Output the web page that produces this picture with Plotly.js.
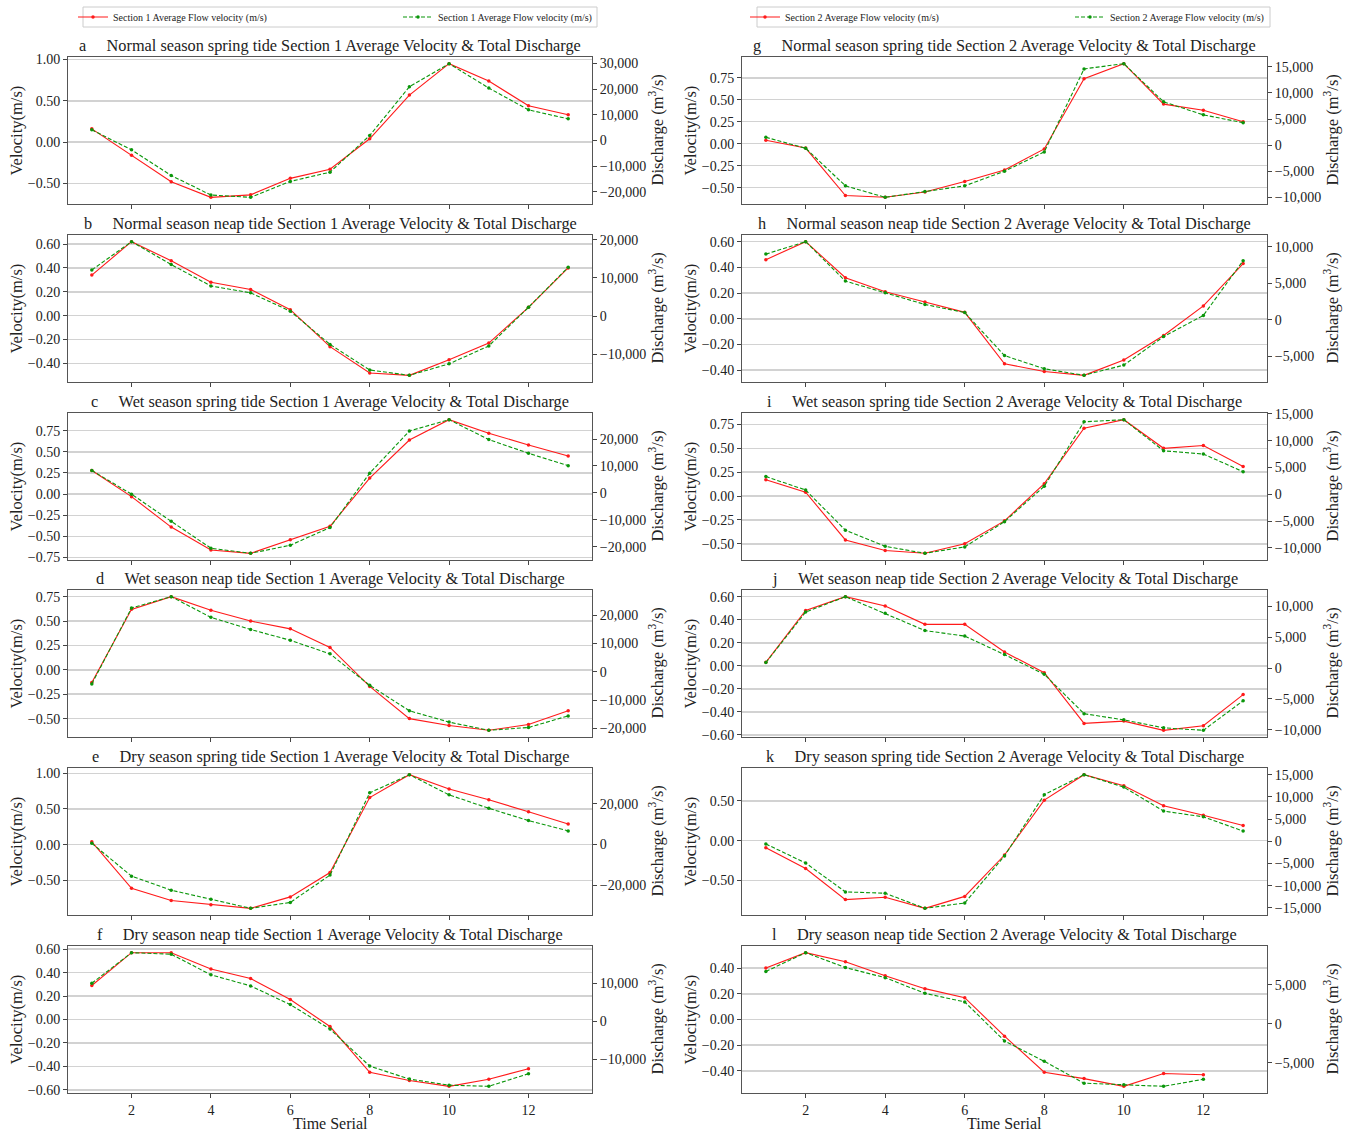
<!DOCTYPE html>
<html><head><meta charset="utf-8">
<script src="https://cdn.plot.ly/plotly-3.0.1.min.js"></script>
<style>html,body{margin:0;padding:0;background:#fff}#chart{width:1348px;height:1131px}</style>
</head><body><div id="chart"></div>
<script>
// ---------------- DATA ----------------
const timeSerial13 = [1,2,3,4,5,6,7,8,9,10,11,12,13];
const timeSerial12 = [1,2,3,4,5,6,7,8,9,10,11,12];

const panelLetters = ['a','b','c','d','e','f','g','h','i','j','k','l'];
const panelTitles = [
  'Normal season spring tide Section 1 Average Velocity & Total Discharge',
  'Normal season neap tide Section 1 Average Velocity & Total Discharge',
  'Wet season spring tide Section 1 Average Velocity & Total Discharge',
  'Wet season neap tide Section 1 Average Velocity & Total Discharge',
  'Dry season spring tide Section 1 Average Velocity & Total Discharge',
  'Dry season neap tide Section 1 Average Velocity & Total Discharge',
  'Normal season spring tide Section 2 Average Velocity & Total Discharge',
  'Normal season neap tide Section 2 Average Velocity & Total Discharge',
  'Wet season spring tide Section 2 Average Velocity & Total Discharge',
  'Wet season neap tide Section 2 Average Velocity & Total Discharge',
  'Dry season spring tide Section 2 Average Velocity & Total Discharge',
  'Dry season neap tide Section 2 Average Velocity & Total Discharge'
];
const legendLabelsSec1 = ['Section 1 Average Flow velocity (m/s)', 'Section 1 Average Flow velocity (m/s)'];
const legendLabelsSec2 = ['Section 2 Average Flow velocity (m/s)', 'Section 2 Average Flow velocity (m/s)'];
const velocityTitle = 'Velocity(m/s)';
const dischargeTitle = 'Discharge (m<sup>3</sup>/s)';
const xTitle = 'Time Serial';

// Section 1 (velocity m/s, discharge m3/s)
const velA = [0.16,-0.16,-0.48,-0.67,-0.64,-0.44,-0.33,0.04,0.57,0.95,0.74,0.44,0.33];
const disA = [4100,-3700,-13700,-21300,-22200,-16000,-12400,1900,20900,29900,20400,11900,8400];
const velB = [0.34,0.62,0.46,0.28,0.22,0.05,-0.26,-0.48,-0.50,-0.37,-0.23,0.07,0.40];
const disB = [12100,19500,13500,7900,6100,1300,-7400,-14100,-15500,-12500,-7800,2300,12800];
const velC = [0.28,-0.03,-0.39,-0.66,-0.70,-0.54,-0.38,0.19,0.64,0.88,0.72,0.58,0.45];
const disC = [8300,-500,-10600,-20600,-22500,-19500,-12900,7300,23000,27200,19800,14700,10100];
const velD = [-0.13,0.62,0.75,0.61,0.50,0.42,0.23,-0.17,-0.50,-0.57,-0.62,-0.56,-0.42];
const disD = [-4300,22500,26500,19200,14900,11100,6300,-4800,-13800,-17800,-20700,-19700,-15600];
const velE = [0.04,-0.61,-0.78,-0.84,-0.89,-0.73,-0.39,0.66,0.98,0.78,0.63,0.46,0.29];
const disE = [500,-15600,-22500,-27000,-31400,-28500,-15100,25300,34200,24300,17700,11700,6600];
const velF = [0.29,0.57,0.57,0.43,0.35,0.17,-0.06,-0.45,-0.52,-0.57,-0.51,-0.42];
const disF = [10000,18000,17600,12200,9300,4400,-2000,-11700,-15100,-16700,-17000,-13700];
// Section 2
const velG = [0.04,-0.05,-0.59,-0.61,-0.55,-0.43,-0.30,-0.06,0.74,0.91,0.45,0.38,0.25];
const disG = [1500,-600,-7800,-10000,-8900,-7800,-5000,-1300,14600,15600,8300,5800,4300];
const velH = [0.46,0.60,0.32,0.21,0.13,0.05,-0.35,-0.41,-0.44,-0.32,-0.13,0.10,0.43];
const disH = [9000,10700,5300,3700,2100,1000,-4900,-6700,-7600,-6200,-2300,600,8100];
const velI = [0.17,0.04,-0.46,-0.57,-0.60,-0.50,-0.26,0.13,0.71,0.80,0.50,0.53,0.31];
const disI = [3300,800,-6700,-9700,-11000,-9800,-5100,1500,13500,13900,8100,7500,4200];
const velJ = [0.03,0.48,0.60,0.52,0.36,0.36,0.12,-0.06,-0.50,-0.48,-0.56,-0.52,-0.25];
const disJ = [900,9100,11600,8900,6100,5200,2200,-1000,-7400,-8400,-9700,-10100,-5300];
const velK = [-0.09,-0.35,-0.74,-0.71,-0.85,-0.70,-0.18,0.51,0.83,0.69,0.44,0.32,0.19];
const disK = [-600,-4900,-11400,-11700,-15100,-13900,-3300,10500,15000,12200,6800,5500,2300];
const velL = [0.40,0.52,0.45,0.34,0.24,0.17,-0.13,-0.41,-0.46,-0.52,-0.42,-0.43];
const disL = [6700,9100,7200,5900,3900,2800,-2200,-4800,-7600,-7800,-8000,-7100];

// ---------------- LAYOUT / STYLE ----------------
const W = 1348, H = 1131;
const FONT = 'Liberation Serif, Times New Roman, serif';
const RED = '#ff1a1a', GREEN = '#0a960a';
const colX = [[68, 592], [742, 1267]];
const rowTop = [57, 235, 413, 590, 768, 946];
const rowH = 147;

const panels = [
  {x: timeSerial13, v: velA, d: disA, vdt: 0.5,  ddt: 10000},
  {x: timeSerial13, v: velB, d: disB, vdt: 0.2,  ddt: 10000},
  {x: timeSerial13, v: velC, d: disC, vdt: 0.25, ddt: 10000},
  {x: timeSerial13, v: velD, d: disD, vdt: 0.25, ddt: 10000},
  {x: timeSerial13, v: velE, d: disE, vdt: 0.5,  ddt: 20000},
  {x: timeSerial12, v: velF, d: disF, vdt: 0.2,  ddt: 10000},
  {x: timeSerial13, v: velG, d: disG, vdt: 0.25, ddt: 5000},
  {x: timeSerial13, v: velH, d: disH, vdt: 0.2,  ddt: 5000},
  {x: timeSerial13, v: velI, d: disI, vdt: 0.25, ddt: 5000},
  {x: timeSerial13, v: velJ, d: disJ, vdt: 0.2,  ddt: 5000},
  {x: timeSerial13, v: velK, d: disK, vdt: 0.5,  ddt: 5000},
  {x: timeSerial12, v: velL, d: disL, vdt: 0.2,  ddt: 5000}
];

function padRange(arr) {
  const mn = Math.min(...arr), mx = Math.max(...arr), s = mx - mn;
  return [mn - 0.05 * s, mx + 0.05 * s];
}
const sfx = n => (n === 1 ? '' : String(n));

const traces = [];
const layout = {
  width: W, height: H,
  margin: {l: 0, r: 0, t: 0, b: 0},
  paper_bgcolor: '#fff', plot_bgcolor: '#fff',
  font: {family: FONT, color: '#222', size: 14},
  showlegend: true,
  annotations: [], shapes: []
};

const tickFont = {family: FONT, size: 14, color: '#222'};

panels.forEach((p, i) => {
  const col = Math.floor(i / 6), row = i % 6;
  const xn = i + 1, yl = 2 * i + 1, yr = 2 * i + 2;
  const [x0, x1] = colX[col];
  const top = rowTop[row], bot = top + rowH;
  const xdom = [x0 / W, x1 / W];
  const ydom = [1 - bot / H, 1 - top / H];

  layout['xaxis' + sfx(xn)] = {
    domain: xdom, anchor: 'y' + sfx(yl), range: [0.4, 13.6],
    tick0: 0, dtick: 2, showticklabels: row === 5,
    ticks: 'outside', ticklen: 4, tickwidth: 1, tickcolor: '#444',
    showline: true, mirror: true, linecolor: '#555', linewidth: 1,
    showgrid: false, zeroline: false, tickfont: tickFont, fixedrange: true
  };
  layout['yaxis' + sfx(yl)] = {
    domain: ydom, anchor: 'x' + sfx(xn), range: padRange(p.v),
    tick0: 0, dtick: p.vdt, tickformat: '.2f',
    ticks: 'outside', ticklen: 4, tickwidth: 1, tickcolor: '#444',
    showline: true, mirror: true, linecolor: '#555', linewidth: 1,
    showgrid: true, gridcolor: '#d2d2d2', gridwidth: 1.5,
    zeroline: false, tickfont: tickFont, fixedrange: true
  };
  layout['yaxis' + sfx(yr)] = {
    overlaying: 'y' + sfx(yl), side: 'right', anchor: 'x' + sfx(xn),
    range: padRange(p.d), tick0: 0, dtick: p.ddt, tickformat: ',.0f',
    ticks: 'outside', ticklen: 4, tickwidth: 1, tickcolor: '#444',
    showline: false, showgrid: false, zeroline: false,
    tickfont: tickFont, fixedrange: true
  };

  const labels = col === 0 ? legendLabelsSec1 : legendLabelsSec2;
  const first = row === 0;
  traces.push({
    type: 'scatter', mode: 'lines+markers', x: p.x, y: p.v,
    xaxis: 'x' + sfx(xn), yaxis: 'y' + sfx(yl),
    line: {color: RED, width: 1.1}, marker: {color: RED, size: 3.5},
    name: labels[0], showlegend: first,
    legend: col === 0 ? 'legend' : 'legend3'
  });
  traces.push({
    type: 'scatter', mode: 'lines+markers', x: p.x, y: p.d,
    xaxis: 'x' + sfx(xn), yaxis: 'y' + sfx(yr),
    line: {color: GREEN, width: 1.1, dash: '4px,2px'}, marker: {color: GREEN, size: 3.5},
    name: labels[1], showlegend: first,
    legend: col === 0 ? 'legend2' : 'legend4'
  });

  const cx = (x0 + x1) / 2 / W;
  layout.annotations.push({
    xref: 'paper', yref: 'paper', x: cx, y: 1 - top / H, yanchor: 'bottom', yshift: 0,
    xanchor: 'center', showarrow: false,
    text: panelLetters[i] + '\u00a0\u00a0\u00a0\u00a0\u00a0' + panelTitles[i],
    font: {family: FONT, size: 16.3, color: '#222'}
  });
  layout.annotations.push({
    xref: 'paper', yref: 'paper', x: (x0 - 52) / W, y: 1 - (top + rowH / 2) / H,
    xanchor: 'center', yanchor: 'middle', textangle: -90, showarrow: false,
    text: velocityTitle, font: {family: FONT, size: 16.5, color: '#222'}
  });
  layout.annotations.push({
    xref: 'paper', yref: 'paper', x: (x1 + 65) / W, y: 1 - (top + rowH / 2) / H,
    xanchor: 'center', yanchor: 'middle', textangle: -90, showarrow: false,
    text: dischargeTitle, font: {family: FONT, size: 16.5, color: '#222'}
  });
  if (row === 5) {
    layout.annotations.push({
      xref: 'paper', yref: 'paper', x: cx, y: 1 - 1123 / H,
      xanchor: 'center', yanchor: 'middle', showarrow: false,
      text: xTitle, font: {family: FONT, size: 16, color: '#222'}
    });
  }
});

// legends: one entry each, framed by a box shape per column
const legBase = {
  orientation: 'h', xanchor: 'left', yanchor: 'middle', y: 1 - 17 / H,
  bgcolor: 'rgba(0,0,0,0)', borderwidth: 0, itemwidth: 30,
  font: {family: FONT, size: 10, color: '#222'}
};
layout.legend  = Object.assign({}, legBase, {x: 73 / W});
layout.legend2 = Object.assign({}, legBase, {x: 398 / W});
layout.legend3 = Object.assign({}, legBase, {x: 745 / W});
layout.legend4 = Object.assign({}, legBase, {x: 1070 / W});
[[83, 597], [757, 1270]].forEach(([a, b]) => {
  layout.shapes.push({
    type: 'rect', xref: 'paper', yref: 'paper',
    x0: a / W, x1: b / W, y0: 1 - 27 / H, y1: 1 - 7 / H,
    line: {color: '#cccccc', width: 1}, fillcolor: 'rgba(0,0,0,0)', layer: 'below'
  });
});

Plotly.newPlot('chart', traces, layout, {staticPlot: true, displayModeBar: false});
</script>
</body></html>
